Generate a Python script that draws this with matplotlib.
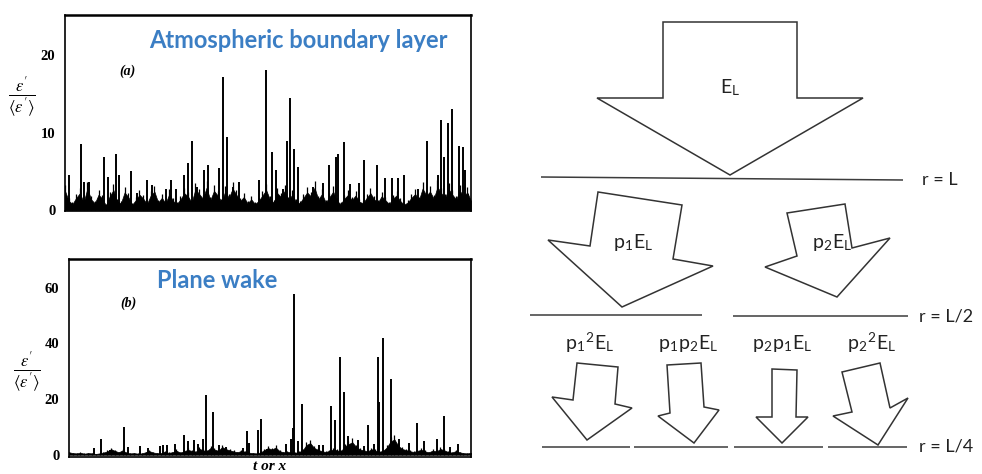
import matplotlib
matplotlib.use("Agg")
import matplotlib.pyplot as plt
from matplotlib.patches import Polygon
import numpy as np

plt.rcParams['mathtext.fontset'] = 'stix'

# --- panel (a): atmospheric boundary layer, spikes ---
spike_t_a = [1.0, 3.9, 4.7, 6.0, 9.6, 10.5, 12.5, 13.3, 16.3, 17.7,
             20.1, 21.4, 24.9, 26.0, 27.3, 29.3, 30.4, 31.4, 32.6, 34.2,
             35.3, 37.9, 38.8, 40.0, 41.5, 42.9, 47.9, 49.5, 50.9, 52.0,
             53.6, 54.6, 55.3, 56.4, 57.3, 61.2, 63.6, 65.0, 66.8, 67.3,
             68.6, 70.2, 72.5, 73.7, 76.8, 78.8, 80.5, 81.9, 83.6, 87.0,
             89.1, 91.8, 92.6, 93.4, 94.3, 95.2, 97.1, 98.0, 98.5, 99.3]
spike_h_a = [4.5, 8.5, 3.7, 3.6, 6.9, 4.3, 7.3, 4.6, 5.1, 2.2,
             3.9, 3.2, 2.7, 3.9, 2.8, 4.6, 6.1, 8.9, 3.0, 5.2,
             5.8, 5.5, 17.2, 9.5, 3.0, 3.7, 3.9, 18.1, 7.5, 5.2,
             2.8, 9.0, 14.5, 7.9, 5.6, 3.0, 3.5, 5.9, 6.9, 7.3,
             8.8, 3.4, 3.5, 6.5, 5.8, 4.1, 4.2, 4.2, 4.6, 2.8,
             8.9, 4.6, 11.6, 6.9, 11.2, 13.1, 8.3, 8.2, 5.2, 2.1]
base_a = [2.5, 1.2, 0.8, 1.6, 2.2, 1.0, 2.8, 1.4, 0.9, 2.0,
          1.5, 0.6, 1.8, 2.6, 1.1, 0.9, 2.3, 1.7, 0.7, 1.3,
          2.0, 1.5, 0.8, 1.9, 2.4, 1.0, 1.6, 0.9, 2.1, 1.2,
          0.8, 1.4, 2.2, 1.8, 1.0, 2.7, 2.1, 1.5, 2.9, 1.3,
          2.5, 1.9, 1.1, 2.4, 1.6, 2.8, 2.0, 1.2, 1.7, 0.9,
          1.4, 0.8, 1.2, 1.9, 2.6, 1.4, 1.0, 2.2, 1.7, 2.5,
          1.3, 2.0, 1.1, 0.9, 1.6, 2.3, 1.8, 2.9, 1.4, 2.1,
          1.0, 1.7, 2.4, 1.2, 0.8, 1.5, 2.0, 1.3, 1.9, 1.1,
          0.9, 1.6, 2.2, 1.4, 1.0, 1.8, 1.3, 0.8, 1.5, 1.9,
          1.2, 0.7, 1.0, 1.6, 2.1, 1.3, 2.8, 1.9, 2.4, 1.5,
          3.0, 2.2, 1.6, 2.7, 2.0, 1.4, 2.5, 1.8, 2.3, 1.2]

# --- panel (b): plane wake ---
spike_t_b = [6.3, 7.9, 10.2, 13.8, 14.8, 17.7, 19.6, 22.7, 23.3, 24.3,
             26.4, 28.5, 29.7, 31.0, 32.2, 33.4, 34.0, 35.9, 37.2, 39.1,
             43.4, 44.4, 44.9, 46.9, 47.8, 49.2, 51.0, 53.9, 55.2, 55.7,
             55.9, 56.9, 57.9, 59.6, 62.1, 63.3, 65.2, 66.1, 67.3, 68.3,
             69.4, 70.4, 72.0, 73.4, 74.5, 75.8, 76.8, 77.1, 78.1, 80.1,
             82.0, 84.5, 86.6, 88.4, 91.5, 93.2, 94.9, 96.8]
spike_h_b = [2.4, 5.6, 1.6, 9.8, 2.7, 3.3, 2.4, 3.2, 3.6, 3.6,
             3.9, 7.2, 4.8, 5.4, 3.9, 5.6, 21.5, 15.2, 3.6, 2.7,
             2.4, 8.4, 4.2, 9.0, 12.8, 2.0, 1.6, 3.9, 5.6, 9.6,
             57.7, 4.8, 18.2, 3.2, 3.6, 3.6, 17.6, 12.5, 35.0, 22.7,
             6.8, 3.2, 5.4, 3.0, 10.8, 3.9, 35.2, 19.1, 41.8, 27.1,
             5.6, 4.2, 11.4, 4.8, 5.7, 14.0, 2.7, 3.9]
base_b = [0.9, 0.6, 0.5, 0.7, 0.4, 0.6, 0.5, 0.3, 0.5, 0.8,
          1.2, 2.0, 1.4, 0.9, 1.6, 0.7, 0.5, 0.6, 0.4, 0.5,
          0.9, 1.3, 0.8, 0.6, 0.5, 1.1, 0.7, 0.9, 1.5, 0.8,
          1.2, 1.8, 1.4, 1.0, 2.2, 1.6, 1.3, 2.5, 1.9, 1.4,
          2.8, 2.0, 1.6, 1.2, 0.9, 1.4, 1.1, 0.7, 0.6, 0.5,
          0.8, 1.7, 2.4, 1.9, 2.6, 1.3, 0.9, 1.1, 0.8, 0.7,
          1.0, 1.5, 3.5, 4.2, 2.5, 1.8, 1.3, 1.0, 1.4, 1.9,
          1.6, 1.2, 3.0, 3.8, 4.5, 2.8, 1.9, 1.6, 1.2, 2.0,
          1.5, 1.1, 1.4, 2.6, 4.8, 5.5, 3.2, 2.1, 1.7, 1.3,
          1.0, 1.4, 1.8, 1.2, 0.9, 1.5, 1.2, 2.1, 1.6, 1.0,
          0.8, 1.3, 0.9, 0.6, 0.5, 0.7]

# --- cascade diagram (pixel coordinates of the drawing) ---
arrow_EL = [(663, 22), (797, 22), (797, 98), (863, 98), (730, 175), (597, 98), (663, 98)]
arrow_p1 = [(598, 192), (682, 205), (673, 259), (713, 266), (622, 307), (548, 240), (590, 246)]
arrow_p2 = [(787, 213), (845, 204), (852, 248), (890, 238), (837, 297), (765, 267), (797, 256)]
arrow_p11 = [(577, 363), (618, 367), (615, 404), (632, 408), (587, 440), (552, 397), (573, 400)]
arrow_p12 = [(667, 365), (701, 363), (704, 407), (719, 410), (694, 443), (658, 416), (670, 413)]
arrow_p21 = [(772, 369), (797, 370), (796, 417), (808, 417), (782, 443), (756, 417), (772, 417)]
arrow_p22 = [(842, 372), (880, 363), (890, 408), (908, 398), (878, 445), (833, 416), (852, 412)]
arrows = [arrow_EL, arrow_p1, arrow_p2, arrow_p11, arrow_p12, arrow_p21, arrow_p22]

scale_lines = [((541, 903), (177, 180)),
               ((530, 702), (315, 315)), ((733, 908), (316, 316)),
               ((542, 630), (447, 447)), ((634, 728), (447, 447)),
               ((734, 823), (447, 447)), ((828, 907), (447, 447))]
scale_labels = ["r = L", "r = L/2", "r = L/4"]
scale_label_pos = [(922, 180), (919, 316), (919, 447)]

flux_labels = [r"E$_\mathregular{L}$",
               r"p$_\mathregular{1}$E$_\mathregular{L}$",
               r"p$_\mathregular{2}$E$_\mathregular{L}$",
               r"p$_\mathregular{1}$$^\mathregular{2}$E$_\mathregular{L}$",
               r"p$_\mathregular{1}$p$_\mathregular{2}$E$_\mathregular{L}$",
               r"p$_\mathregular{2}$p$_\mathregular{1}$E$_\mathregular{L}$",
               r"p$_\mathregular{2}$$^\mathregular{2}$E$_\mathregular{L}$"]
flux_label_pos = [(730, 88), (633, 242), (832, 242),
                  (590, 343), (688, 343), (782, 343), (872, 343)]

W, H = 982, 474
fig = plt.figure(figsize=(W / 100, H / 100), dpi=100)


def trace_panel(rect, spike_t, spike_h, base, ylim, yticks):
    ax = fig.add_axes(rect)
    tb = np.linspace(0, 100, len(base))
    ax.fill_between(tb, 0, base, color='black', lw=0.5)
    ax.vlines(spike_t, 0, spike_h, color='black', lw=1.4)
    ax.vlines(tb, 0, np.array(base) * 1.3, color='black', lw=0.9)
    ax.set_xlim(0, 100)
    ax.set_ylim(*ylim)
    ax.set_xticks([])
    ax.set_yticks(yticks)
    ax.tick_params(axis='y', length=0, pad=7)
    for lab in ax.get_yticklabels():
        lab.set_family('Liberation Serif')
        lab.set_fontweight('bold')
        lab.set_fontsize(10.5)
    for s in ax.spines.values():
        s.set_linewidth(1.2)
    ax.spines['top'].set_linewidth(1.8)
    return ax


def px_rect(x0, y0, x1, y1):
    return [x0 / W, 1 - y1 / H, (x1 - x0) / W, (y1 - y0) / H]


ax_a = trace_panel(px_rect(65, 15, 471, 211), spike_t_a, spike_h_a, base_a,
                   (-0.1, 25.2), [0, 10, 20])
ax_b = trace_panel(px_rect(69, 259, 471, 457), spike_t_b, spike_h_b, base_b,
                   (-0.8, 70.3), [0, 20, 40, 60])

frac = r"$\frac{\epsilon'}{\langle\epsilon'\rangle}$"
fig.text(22 / W, 1 - 97 / H, frac, ha='center', va='center', fontsize=17)
fig.text(27 / W, 1 - 372 / H, frac, ha='center', va='center', fontsize=17)
fig.text(127 / W, 1 - 71 / H, "(a)", ha='center', va='center', fontsize=10,
         family='Liberation Serif', style='italic', weight='bold')
fig.text(128 / W, 1 - 303 / H, "(b)", ha='center', va='center', fontsize=10,
         family='Liberation Serif', style='italic', weight='bold')
fig.text(270 / W, 1 - 466 / H, "t or x", ha='center', va='center', fontsize=11,
         family='Liberation Serif', style='italic', weight='bold')

blue = '#3B7EC4'
fig.text(298 / W, 1 - 40 / H, "Atmospheric boundary layer", ha='center', va='center',
         fontsize=17, family='Lato', weight='bold', color=blue)
fig.text(157 / W, 1 - 281 / H, "Plane wake", ha='left', va='center',
         fontsize=17, family='Lato', weight='bold', color=blue)

# right-hand diagram drawn in pixel space
axd = fig.add_axes([0, 0, 1, 1])
axd.set_xlim(0, W)
axd.set_ylim(H, 0)
axd.axis('off')
axd.patch.set_alpha(0)

for pts in arrows:
    axd.add_patch(Polygon(pts, closed=True, facecolor='white',
                          edgecolor='#333333', lw=1.1, joinstyle='miter'))
for xs, ys in scale_lines:
    axd.plot(xs, ys, color='#3c3c3c', lw=1.1, solid_capstyle='butt')
for lab, (x, y) in zip(scale_labels, scale_label_pos):
    axd.text(x, y, lab, ha='left', va='center', fontsize=13, family='Lato', color='#222222')
for lab, (x, y) in zip(flux_labels, flux_label_pos):
    axd.text(x, y, lab, ha='center', va='center', fontsize=14, family='Lato', color='#222222')

fig.savefig('out.png', dpi=100)
